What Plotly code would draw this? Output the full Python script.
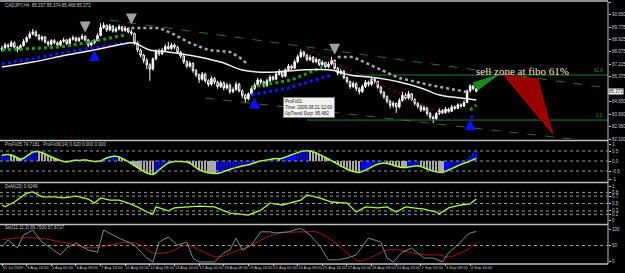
import plotly.graph_objects as go

# ---------------- price data (H4 bars, CADJPY) ----------------
first_open = 88.20
closes = [88.35, 88.55, 88.45, 88.70, 88.40, 88.25, 88.50, 88.80,
          89.05, 89.30, 89.45, 89.20, 88.95, 89.10, 88.75, 88.60,
          88.85, 88.70, 88.55, 88.80, 88.90, 88.65, 88.95, 89.05,
          88.85, 89.00, 89.15, 88.90, 88.55, 88.70, 88.85, 89.20,
          89.75, 89.90, 89.60, 89.85, 89.50, 89.65, 89.80, 89.55,
          89.70, 89.45, 89.35, 88.70, 88.20, 87.85, 87.50, 87.20,
          86.90, 87.60, 88.10, 87.95, 88.20, 88.45, 88.30, 88.55,
          88.40, 88.05, 87.80, 87.40, 87.10, 87.30, 86.80, 86.50,
          86.20, 86.55, 86.10, 85.85, 86.25, 86.00, 85.70, 85.95,
          85.60, 85.80, 85.35, 85.50, 85.85, 85.40, 85.10, 84.85,
          85.20, 85.55, 85.80, 86.15, 86.00, 85.75, 86.10, 86.35,
          86.20, 86.55, 86.70, 86.40, 86.85, 87.10, 86.95, 87.40,
          87.75, 88.05, 87.85, 87.55, 87.70, 87.40, 87.55, 87.20,
          87.35, 87.05, 87.25, 87.50, 86.95, 86.60, 86.75, 86.30,
          86.05, 85.70, 85.90, 85.55, 85.35, 85.70, 86.00, 85.85,
          86.20, 86.05, 85.65, 85.30, 85.00, 84.70, 84.40, 84.55,
          84.30, 84.75, 85.10, 84.90, 85.20, 84.80, 84.55, 84.35,
          84.10, 84.25, 83.85, 83.60, 83.50, 83.85, 84.05, 83.90,
          84.15, 84.00, 84.30, 84.20, 84.45, 84.35, 84.60, 85.40,
          85.75, 85.55, 85.373]
highs = [88.50, 88.70, 88.65, 88.85, 88.80, 88.50, 88.60, 88.95,
         89.15, 89.50, 89.65, 89.55, 89.30, 89.20, 89.15, 88.85,
         88.95, 88.95, 88.80, 88.90, 89.05, 88.95, 89.05, 89.20,
         89.10, 89.10, 89.30, 89.20, 88.95, 88.80, 88.95, 89.35,
         90.05, 90.10, 89.95, 90.00, 89.90, 89.80, 89.95, 89.85,
         89.85, 89.75, 89.60, 89.40, 88.80, 88.30, 87.95, 87.65,
         87.30, 87.70, 88.25, 88.30, 88.35, 88.60, 88.75, 88.70,
         88.65, 88.50, 88.15, 87.90, 87.50, 87.45, 87.35, 86.90,
         86.60, 86.70, 86.65, 86.20, 86.40, 86.35, 86.10, 86.10,
         86.05, 85.95, 85.90, 85.65, 86.00, 85.95, 85.50, 85.20,
         85.30, 85.70, 85.95, 86.30, 86.25, 86.10, 86.25, 86.50,
         86.45, 86.70, 86.90, 86.80, 86.95, 87.25, 87.20, 87.55,
         87.90, 88.25, 88.15, 87.95, 87.85, 87.80, 87.70, 87.60,
         87.50, 87.40, 87.40, 87.75, 87.55, 87.05, 86.90, 86.85,
         86.40, 86.10, 86.05, 86.00, 85.65, 85.85, 86.15, 86.10,
         86.40, 86.30, 86.10, 85.75, 85.40, 85.10, 84.80, 84.70,
         84.60, 84.90, 85.35, 85.25, 85.40, 85.25, 84.90, 84.65,
         84.45, 84.40, 84.30, 83.95, 83.70, 83.95, 84.20, 84.15,
         84.30, 84.25, 84.45, 84.40, 84.55, 84.55, 84.75, 85.50,
         85.85, 85.80, 85.60]
lows = [88.10, 88.25, 88.30, 88.40, 88.30, 88.05, 88.15, 88.45,
        88.70, 88.95, 89.20, 89.10, 88.85, 88.80, 88.65, 88.45,
        88.50, 88.60, 88.40, 88.45, 88.70, 88.55, 88.60, 88.85,
        88.75, 88.75, 88.90, 88.80, 88.40, 88.45, 88.60, 88.80,
        89.15, 89.65, 89.45, 89.50, 89.40, 89.40, 89.55, 89.45,
        89.45, 89.35, 89.20, 88.55, 88.05, 87.70, 87.30, 86.90,
        86.10, 86.80, 87.50, 87.80, 87.85, 88.10, 88.20, 88.20,
        88.25, 87.95, 87.65, 87.25, 86.95, 87.00, 86.65, 86.35,
        85.95, 86.10, 85.95, 85.70, 85.75, 85.85, 85.55, 85.60,
        85.45, 85.50, 85.20, 85.25, 85.40, 85.30, 84.90, 84.55,
        84.75, 85.10, 85.45, 85.70, 85.85, 85.65, 85.70, 86.00,
        86.10, 86.15, 86.45, 86.30, 86.35, 86.75, 86.85, 86.90,
        87.30, 87.65, 87.70, 87.45, 87.45, 87.30, 87.30, 87.10,
        87.10, 86.95, 86.95, 87.15, 86.85, 86.45, 86.50, 86.20,
        85.90, 85.55, 85.60, 85.40, 85.15, 85.25, 85.60, 85.70,
        85.75, 85.90, 85.55, 85.15, 84.85, 84.55, 84.20, 84.25,
        83.90, 84.20, 84.65, 84.80, 84.80, 84.70, 84.40, 84.20,
        83.95, 84.00, 83.70, 83.45, 83.20, 83.40, 83.75, 83.80,
        83.85, 83.90, 83.95, 84.10, 84.15, 84.25, 84.30, 84.55,
        85.30, 85.45, 85.30]
bars = list(range(len(closes)))
opens = [first_open] + closes[:-1]

date_labels = ["31 Jul 2009", "3 Aug 16:00", "5 Aug 00:00", "6 Aug 08:00", "7 Aug 16:00",
               "11 Aug 00:00", "12 Aug 08:00", "13 Aug 16:00", "17 Aug 00:00", "18 Aug 08:00",
               "19 Aug 16:00", "21 Aug 00:00", "24 Aug 08:00", "25 Aug 16:00", "27 Aug 00:00",
               "28 Aug 08:00", "31 Aug 16:00", "2 Sep 00:00", "3 Sep 08:00", "4 Sep 16:00"]
date_bars = list(range(0, 8 * len(date_labels), 8))

price_ticks = [91.500, 90.650, 89.775, 88.925, 88.075, 87.225, 86.375, 84.650, 83.800, 82.950, 82.100]

# ---------------- main-window indicator lines ----------------
ma_bars = [0, 10, 21, 30, 41, 43, 48, 54, 64, 71, 78, 83, 89, 97, 107, 113, 122, 129, 136, 142, 149, 154]
ma_vals = [87.04, 87.38, 87.86, 88.21, 88.69, 88.69, 88.21, 88.07, 87.73, 87.38, 86.83, 86.70, 86.70,
           86.83, 86.83, 86.49, 86.28, 86.01, 85.60, 85.12, 84.91, 84.77]

blue_a_bars = [0, 12, 25, 41]
blue_a_vals = [87.24, 87.72, 88.21, 88.69]
blue_b_bars = [81, 93, 107]
blue_b_vals = [85.12, 85.60, 86.49]
blue_c_bars = [152, 154]
blue_c_vals = [83.61, 83.61]

green_a_bars = [0, 19, 32, 40]
green_a_vals = [88.21, 88.41, 88.89, 89.24]
green_b_bars = [81, 94, 104]
green_b_vals = [85.67, 86.15, 87.04]
green_c_bars = [152, 154]
green_c_vals = [84.09, 84.43]

gray_a_bars = [42, 51, 55, 61, 67, 74, 77, 80]
gray_a_vals = [89.72, 89.72, 89.37, 88.69, 88.21, 88.07, 87.72, 87.18]
gray_b_bars = [109, 114, 121, 129, 139, 151]
gray_b_vals = [87.72, 87.72, 87.04, 86.28, 85.80, 85.32]

red_tl_bars = [99, 142]
red_tl_vals = [88.30, 83.90]
upper_tl_bars = [35, 196.7]
upper_tl_vals = [90.26, 85.60]
lower_tl_bars = [66, 185]
lower_tl_vals = [84.91, 82.10]
fibo_618_bars = [116, 196.7]
fibo_618_vals = [86.49, 86.49]
fibo_0_bars = [99, 196.7]
fibo_0_vals = [83.40, 83.40]

down_arrow_bars = [27, 42, 108]
down_arrow_vals = [89.40, 89.95, 87.88]
up_arrow_bars = [30, 82, 152]
up_arrow_vals = [88.20, 84.95, 83.45]

green_wedge_bars = [152.9, 161.0, 154.5]
green_wedge_vals = [85.94, 86.49, 85.46]
red_wedge_bars = [162.7, 174.0, 178.9]
red_wedge_vals = [86.49, 86.22, 82.37]

# ---------------- ProFx05 oscillator ----------------
profx = [0.29, 0.31, 0.33, 0.30, 0.24, 0.16, 0.10, 0.14, 0.24, 0.35, 0.44, 0.48,
         0.46, 0.41, 0.35, 0.28, 0.21, 0.14, 0.08, 0.03, -0.02, -0.05,
         -0.02, 0.02, 0.04, 0.03, 0.04, 0.05, 0.03, 0.00, -0.03, -0.02, 0.00,
         0.08, 0.15, 0.20, 0.23, 0.24,
         0.20, 0.13, 0.05, -0.04, -0.13, -0.23, -0.33, -0.43, -0.52, -0.60, -0.65, -0.67,
         -0.58, -0.45, -0.32, -0.20, -0.10, -0.05,
         -0.03, -0.02, -0.03, -0.04, -0.05,
         -0.12, -0.22, -0.33, -0.43, -0.50, -0.55, -0.59, -0.61, -0.62, -0.62,
         -0.58, -0.53, -0.47, -0.42, -0.37, -0.33, -0.29, -0.25, -0.22, -0.19,
         -0.14, -0.09, -0.04, 0.00, 0.03, 0.05,
         0.08, 0.11, 0.12, 0.11, 0.14, 0.19, 0.25, 0.31, 0.37, 0.42, 0.47, 0.50, 0.52,
         0.50, 0.46, 0.40, 0.33, 0.26, 0.18, 0.10, 0.02, -0.07, -0.16, -0.25, -0.33, -0.41,
         -0.47, -0.52, -0.55, -0.57,
         -0.53, -0.46, -0.38, -0.30, -0.22, -0.16, -0.12, -0.10,
         -0.12, -0.16, -0.21, -0.26, -0.30, -0.32, -0.33,
         -0.30, -0.27, -0.25, -0.24,
         -0.28, -0.34, -0.40, -0.46, -0.51, -0.54, -0.56, -0.57,
         -0.52, -0.45, -0.38, -0.31, -0.24, -0.17, -0.11, -0.06, 0.00, 0.07, 0.14]
hist_tail = [0.12, 0.26, 0.40, 0.52]
profx_hist = profx[:len(profx) - len(hist_tail)] + hist_tail
hist_colors = ["#0000ff" if i == 0 or profx_hist[i] >= profx_hist[i - 1] else "#a8a8a8"
               for i in range(len(profx_hist))]

# ---------------- DeMarker(20) ----------------
dem_bars = [0, 1, 4, 6, 8, 10, 11, 13, 17, 20, 24, 28, 30, 32, 35, 38, 41, 44, 47, 49, 50, 54, 56, 60,
            64, 69, 74, 80, 84, 87, 91, 97, 99, 103, 107, 112, 115, 118, 122, 125, 128, 131, 137, 141,
            142, 145, 149, 152, 154]
dem_vals = [0.46, 0.41, 0.54, 0.65, 0.78, 0.81, 0.76, 0.68, 0.68, 0.65, 0.70, 0.62, 0.51, 0.65, 0.59,
            0.59, 0.51, 0.41, 0.27, 0.22, 0.41, 0.30, 0.38, 0.41, 0.43, 0.41, 0.24, 0.19, 0.32, 0.51,
            0.46, 0.59, 0.73, 0.65, 0.54, 0.51, 0.27, 0.41, 0.38, 0.41, 0.27, 0.41, 0.35, 0.27, 0.22,
            0.38, 0.46, 0.49, 0.62]

# ---------------- Stochastic(11,11,3) ----------------
sto_bars = [0, 2, 4, 5, 7, 10, 13, 17, 19, 21, 24, 28, 31, 33, 36, 38, 43, 47, 49, 51, 54, 57, 60, 62,
            64, 69, 72, 74, 76, 78, 81, 84, 87, 89, 93, 97, 100, 103, 106, 109, 112, 115, 119, 123,
            125, 127, 130, 133, 137, 140, 143, 145, 149, 151, 152, 154]
sto_main = [46, 66, 51, 43, 80, 94, 60, 37, 23, 43, 57, 37, 31, 94, 80, 71, 51, 14, 3, 60, 74, 51, 60,
            14, 3, 3, 29, 37, 71, 37, 51, 89, 89, 86, 89, 100, 80, 51, 9, 9, 14, 23, 71, 60, 14, 3, 31,
            43, 14, 14, 3, 29, 60, 80, 86, 90]
sig_bars = [0, 4, 12, 21, 29, 35, 41, 45, 49, 54, 60, 64, 70, 75, 81, 86, 91, 99, 102, 107, 112, 116,
            120, 125, 129, 133, 138, 142, 145, 149, 152, 154]
sto_signal = [66, 71, 71, 57, 43, 51, 60, 51, 29, 31, 51, 37, 17, 31, 51, 74, 86, 89, 89, 66, 29, 6,
              17, 37, 37, 29, 23, 23, 17, 29, 43, 58]

# ---------------- figure ----------------
AX = "#c8c8c8"
FONT = "Liberation Sans"
FS = 4.5
fig = go.Figure()


def line(xs, ys, color, width=1, dash=None, yaxis="y", shape="linear"):
    fig.add_trace(go.Scatter(x=xs, y=ys, mode="lines", yaxis=yaxis, hoverinfo="skip",
                             line=dict(color=color, width=width, dash=dash, shape=shape)))


# trend / fibo lines (behind candles)
line(upper_tl_bars, upper_tl_vals, "#2e6e2e", 1, "dash")
line(lower_tl_bars, lower_tl_vals, "#2e6e2e", 1, "dash")
line(fibo_618_bars, fibo_618_vals, "#2a7a2a", 1)
line(fibo_0_bars, fibo_0_vals, "#2a7a2a", 1)
line(red_tl_bars, red_tl_vals, "#8a1010", 1, "dot")

# indicator bands
line(green_a_bars, green_a_vals, "#1e9a1e", 3, "dot")
line(green_b_bars, green_b_vals, "#1e9a1e", 3, "dot")
line(green_c_bars, green_c_vals, "#1e9a1e", 3, "dot")
line(blue_a_bars, blue_a_vals, "#1515ff", 3, "dot")
line(blue_b_bars, blue_b_vals, "#1515ff", 3, "dot")
line(blue_c_bars, blue_c_vals, "#1515ff", 3, "dot")
line(gray_a_bars, gray_a_vals, "#a8a8a8", 2.5, "dot")
line(gray_b_bars, gray_b_vals, "#a8a8a8", 2.5, "dot")

fig.add_trace(go.Candlestick(
    x=bars, open=opens, high=highs, low=lows, close=closes, yaxis="y", hoverinfo="skip",
    whiskerwidth=0,
    increasing=dict(line=dict(color="#ffffff", width=1), fillcolor="#ffffff"),
    decreasing=dict(line=dict(color="#ffffff", width=1), fillcolor="#000000")))

line(ma_bars, ma_vals, "#f0f0f0", 1.5, None, "y", "spline")

# sell-zone drawing
fig.add_trace(go.Scatter(x=green_wedge_bars, y=green_wedge_vals, fill="toself", mode="lines",
                         fillcolor="#1a8a1a", line=dict(color="#1a8a1a", width=1), hoverinfo="skip"))
fig.add_trace(go.Scatter(x=red_wedge_bars, y=red_wedge_vals, fill="toself", mode="lines",
                         fillcolor="#9a0000", line=dict(color="#9a0000", width=1), hoverinfo="skip"))

# arrows
fig.add_trace(go.Scatter(x=down_arrow_bars, y=down_arrow_vals, mode="markers", hoverinfo="skip",
                         marker=dict(symbol="arrow-down", size=11, color="#a0a0a0")))
fig.add_trace(go.Scatter(x=up_arrow_bars, y=up_arrow_vals, mode="markers", hoverinfo="skip",
                         marker=dict(symbol="arrow-up", size=11, color="#1010ff")))

# ProFx05 panel
fig.add_trace(go.Bar(x=bars, y=profx_hist, yaxis="y2", width=0.75, hoverinfo="skip",
                     marker=dict(color=hist_colors, line=dict(width=0))))
line(bars, profx, "#adff2f", 1.5, None, "y2", "spline")

# DeMarker panel
line(dem_bars, dem_vals, "#adff2f", 1.3, None, "y3")

# Stochastic panel
line(sig_bars, sto_signal, "#a01818", 1, None, "y4", "spline")
line(sto_bars, sto_main, "#6e8e8a", 1, None, "y4")

# ---------------- layout ----------------
H_PLOT = 263.0
def fy(px):
    return (264.0 - px) / H_PLOT

tickfont = dict(family=FONT, size=FS, color=AX)
yax_common = dict(side="right", anchor="x", showgrid=False, zeroline=False, ticks="outside",
                  ticklen=2, tickcolor=AX, tickfont=tickfont, showline=False, fixedrange=True)

fig.update_layout(
    width=625, height=273, margin=dict(l=0, r=17, t=1, b=9),
    paper_bgcolor="#000000", plot_bgcolor="#000000", showlegend=False, bargap=0,
    xaxis=dict(domain=[0, 1], anchor="y4", range=[-0.65, 196.75], tickvals=date_bars,
               ticktext=date_labels, ticklabelposition="outside right",
               tickfont=dict(family=FONT, size=4, color=AX),
               ticks="outside", ticklen=2, tickcolor=AX, showgrid=False, zeroline=False,
               rangeslider=dict(visible=False), tickangle=0),
    yaxis=dict(domain=[fy(139), fy(2)], range=[82.1, 91.5], tickvals=price_ticks,
               ticktext=["%.3f" % v for v in price_ticks], **yax_common),
    yaxis2=dict(domain=[fy(181), fy(142)], range=[-1.0, 0.95], tickvals=[0.85, 0.5, 0, -0.5, -0.9],
                ticktext=["1", "0.5", "0.0", "-0.5", "-1"], **yax_common),
    yaxis3=dict(domain=[fy(222), fy(185)], range=[0, 1], tickvals=[0.97, 0.8, 0.7, 0.5, 0.3, 0.2, 0.03],
                ticktext=["1", "0.8", "0.7", "0.5", "0.3", "0.2", "0"], **yax_common),
    yaxis4=dict(domain=[fy(263), fy(228)], range=[0, 100], tickvals=[96, 50, 4],
                ticktext=["100", "50", "0"], **yax_common),
)

shapes = []
# window separators and frame
for px in [1, 140.5, 182.5, 224.5, 264]:
    shapes.append(dict(type="line", xref="paper", yref="paper", x0=0, x1=1, y0=fy(px), y1=fy(px),
                       line=dict(color="#c0c0c0", width=1.5)))
shapes.append(dict(type="line", xref="paper", yref="paper", x0=1, x1=1, y0=0, y1=1,
                   line=dict(color="#c0c0c0", width=1)))
# dotted levels
for yr, levels in [("y2", [0.5, 0, -0.5]), ("y3", [0.8, 0.7, 0.5, 0.3, 0.2]), ("y4", [50])]:
    for lv in levels:
        shapes.append(dict(type="line", xref="paper", yref=yr, x0=0, x1=1, y0=lv, y1=lv,
                           line=dict(color="#9a9a9a", width=1, dash="dot")))
fig.update_layout(shapes=shapes)

small = dict(family=FONT, size=FS, color=AX)
ann = [
    dict(x=0.005, y=fy(5), xref="paper", yref="paper", xanchor="left", yanchor="middle",
         text="CADJPY,H4  85.337 85.374 85.468 85.373", showarrow=False, font=small),
    dict(x=0.005, y=fy(144), xref="paper", yref="paper", xanchor="left", yanchor="middle",
         text="ProFx05 74.7181   ProFx06(14) 0.620 0.000 0.000", showarrow=False, font=small),
    dict(x=0.005, y=fy(186), xref="paper", yref="paper", xanchor="left", yanchor="middle",
         text="DeM(20) 0.6249", showarrow=False, font=small),
    dict(x=0.005, y=fy(228), xref="paper", yref="paper", xanchor="left", yanchor="middle",
         text="Sto(11,11,3) 89.7500 57.8727", showarrow=False, font=small),
    dict(x=169, y=86.78, xref="x", yref="y", xanchor="center", yanchor="middle",
         text="sell zone at fibo 61%", showarrow=False,
         font=dict(family="Liberation Serif", size=11, color="#f2e2c2")),
    dict(x=91.3, y=84.95, xref="x", yref="y", xanchor="left", yanchor="top", align="left",
         text="ProFx01<br>Time: 2009.08.21 12:00<br>UpTrend Stop: 85.482", showarrow=False,
         font=dict(family=FONT, size=4.5, color="#202020"), bgcolor="#f2f2f2",
         bordercolor="#808080", borderwidth=1, borderpad=1),
    dict(x=1.0, y=closes[-1], xref="paper", yref="y", xanchor="left", yanchor="middle",
         text="%.3f" % closes[-1], showarrow=False,
         font=dict(family=FONT, size=FS, color="#000000"), bgcolor="#ffffff", borderpad=0),
    dict(x=0.995, y=fibo_618_vals[0], xref="paper", yref="y", xanchor="right", yanchor="bottom",
         text="61.8", showarrow=False, font=dict(family=FONT, size=FS, color="#2a9a2a")),
    dict(x=0.995, y=fibo_0_vals[0], xref="paper", yref="y", xanchor="right", yanchor="bottom",
         text="0.0", showarrow=False, font=dict(family=FONT, size=FS, color="#2a9a2a")),
]
fig.update_layout(annotations=ann)

fig.write_html("out.html")
